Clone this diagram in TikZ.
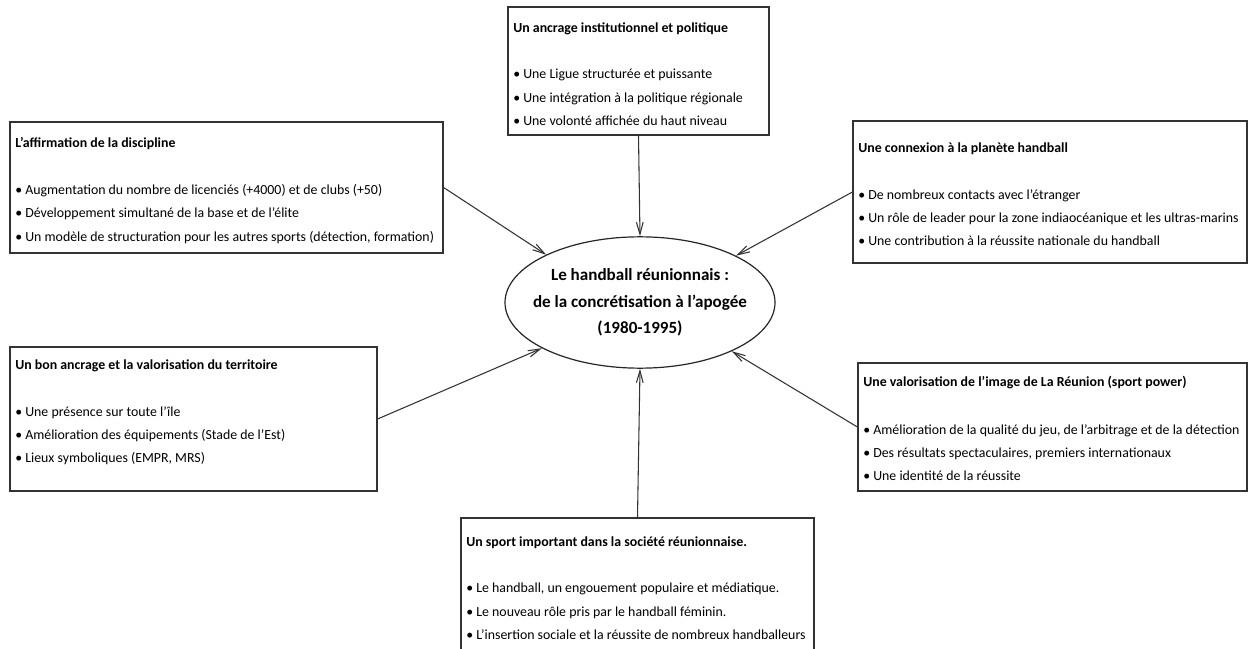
\documentclass[tikz,border=0pt]{standalone}
\usepackage{fontspec}
\setmainfont{Carlito}
\usetikzlibrary{shapes.geometric,arrows.meta,fit,positioning}
\tikzset{
  box/.style={draw=black!80, line width=0.9pt, inner sep=0pt, fill=white},
  ttl/.style={anchor=west, inner sep=0pt, font=\fontsize{10.4}{12}\selectfont\bfseries},
  items/.style={anchor=north west, inner sep=0pt, align=left, font=\fontsize{10.4}{17.6}\selectfont},
  conn/.style={draw=black!80, line width=0.8pt, -{Straight Barb[length=9pt,width=5pt,line width=0.8pt]}},
  ctr/.style={draw=black!85, line width=0.9pt, ellipse, inner sep=0pt, minimum width=202.5pt, minimum height=98.5pt}
}
\newcommand{\itm}{\textbullet\ }
\begin{document}
\begin{tikzpicture}[x=0.75pt,y=-0.75pt]
\useasboundingbox (0,0) rectangle (1250,649);
\clip (0,0) rectangle (1250,649);
\fill[white] (0,0) rectangle (1250,649);

% centre
\node[ctr] (c) at (640,302.5) {};
\node[align=center, inner sep=0pt, font=\fontsize{12.8}{19.9}\selectfont\bfseries] (ct) at (640,302.5) {Le handball réunionnais :\\de la concrétisation à l’apogée\\(1980-1995)};

% top box
\node[box, fit={(508,7) (769,135)}] (tb) {};
\node[ttl] (tbt) at (513,29) {Un ancrage institutionnel et politique};
\node[items] (tbi) at (513,69) {\itm Une Ligue structurée et puissante\\\itm Une intégration à la politique régionale\\\itm Une volonté affichée du haut niveau};

% left top
\node[box, fit={(10,122) (443,253)}] (lt) {};
\node[ttl] (ltt) at (15,144) {L’affirmation de la discipline};
\node[items] (lti) at (15,184) {\itm Augmentation du nombre de licenciés (+4000) et de clubs (+50)\\\itm Développement simultané de la base et de l’élite\\\itm Un modèle de structuration pour les autres sports (détection, formation)};

% right top
\node[box, fit={(853,121) (1247,263)}] (rt) {};
\node[ttl] (rtt) at (858,149) {Une connexion à la planète handball};
\node[items] (rti) at (858,189) {\itm De nombreux contacts avec l’étranger\\\itm Un rôle de leader pour la zone indiaocéanique et les ultras-marins\\\itm Une contribution à la réussite nationale du handball};

% left bottom
\node[box, fit={(10,347) (377,491)}] (lb) {};
\node[ttl] (lbt) at (15,366) {Un bon ancrage et la valorisation du territoire};
\node[items] (lbi) at (15,406) {\itm Une présence sur toute l’île\\\itm Amélioration des équipements (Stade de l’Est)\\\itm Lieux symboliques (EMPR, MRS)};

% right bottom
\node[box, fit={(858,363) (1247,491)}] (rb) {};
\node[ttl] (rbt) at (863,383) {Une valorisation de l’image de La Réunion (sport power)};
\node[items] (rbi) at (863,424) {\itm Amélioration de la qualité du jeu, de l’arbitrage et de la détection\\\itm Des résultats spectaculaires, premiers internationaux\\\itm Une identité de la réussite};

% bottom
\node[box, fit={(461,518) (814,670)}] (bt) {};
\node[ttl] (btt) at (466,543) {Un sport important dans la société réunionnaise.};
\node[items] (bti) at (466,583) {\itm Le handball, un engouement populaire et médiatique.\\\itm Le nouveau rôle pris par le handball féminin.\\\itm L’insertion sociale et la réussite de nombreux handballeurs};

% connectors
\draw[conn] (tb.south) -- (c.north);
\draw[conn] (bt.north) -- (c.south);
\draw[conn] (lt.east) -- (c.153.4);
\draw[conn] (rt.west) -- (c.26.6);
\draw[conn] (lb.east) -- (c.205);
\draw[conn] (rb.west) -- (c.332.5);
\end{tikzpicture}
\end{document}
